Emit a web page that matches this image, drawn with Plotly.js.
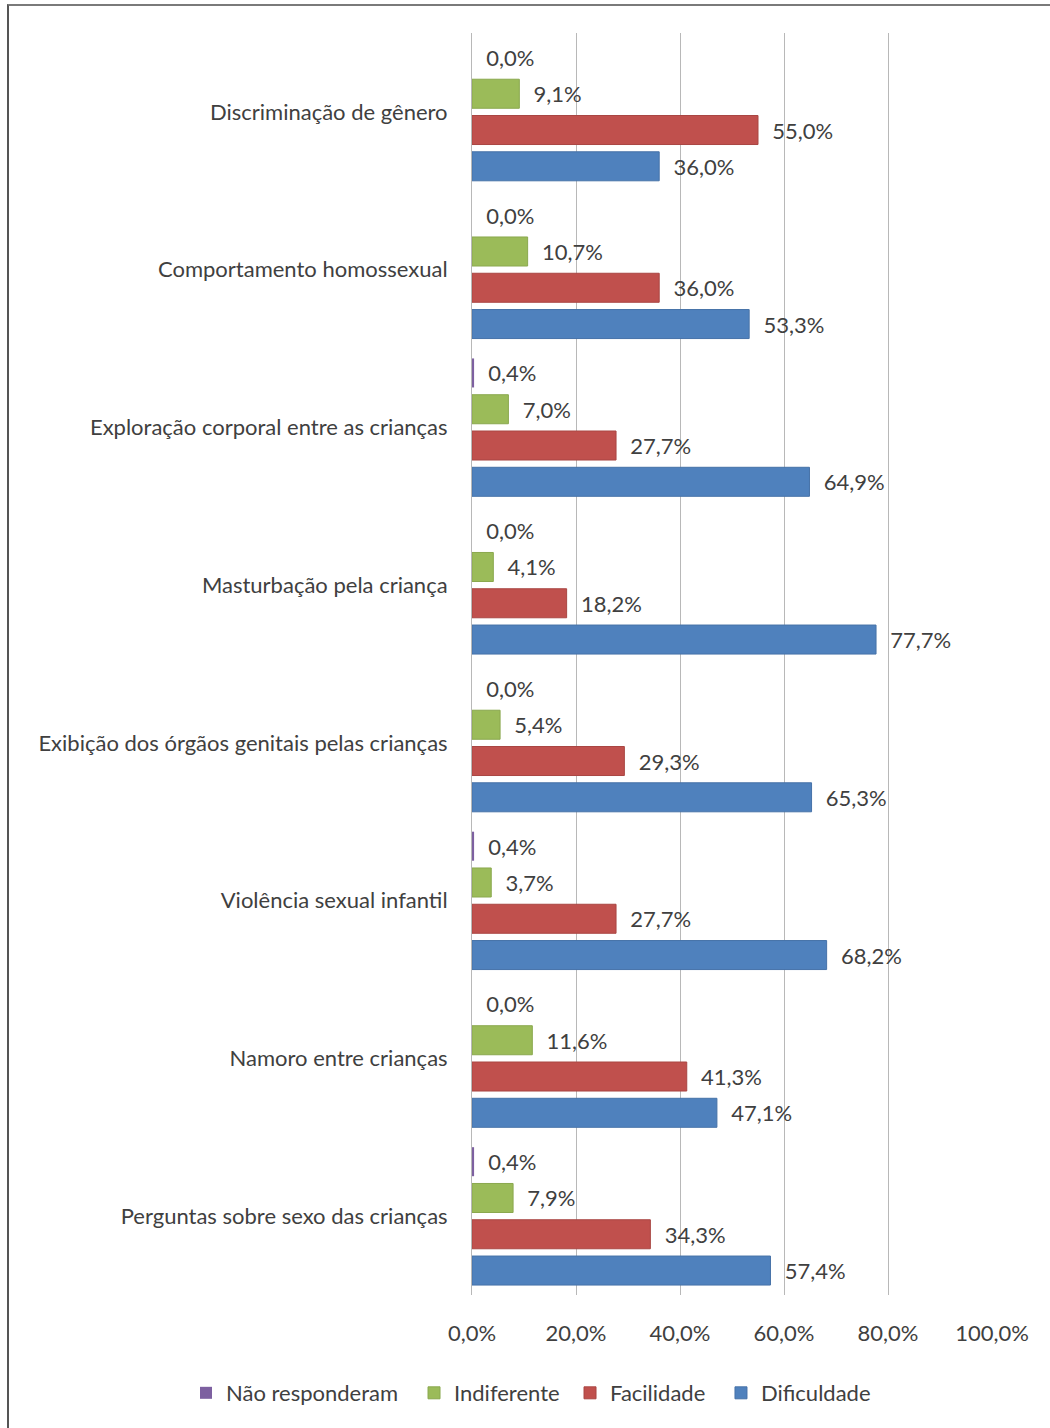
<!DOCTYPE html>
<html>
<head>
<meta charset="utf-8">
<script src="https://cdn.plot.ly/plotly-3.0.1.min.js"></script>
<style>
  html, body { margin: 0; padding: 0; background: #fff; }
  #chart { width: 1050px; height: 1428px; position: absolute; left: 0; top: 0; }
  #frame { position: absolute; left: 7px; top: 4px; width: 1043px; height: 1424px;
           border-top: 2px solid #7a7a7a; border-left: 2px solid #555; pointer-events: none; box-sizing: border-box; }
</style>
</head>
<body>
<div id="chart"></div>
<div id="frame"></div>
<script>
const categories = [
  "Discriminação de gênero",
  "Comportamento homossexual",
  "Exploração corporal entre as crianças",
  "Masturbação pela criança",
  "Exibição dos órgãos genitais pelas crianças",
  "Violência sexual infantil",
  "Namoro entre crianças",
  "Perguntas sobre sexo das crianças"
];
const naoResponderam = [0.0, 0.0, 0.4, 0.0, 0.0, 0.4, 0.0, 0.4];
const indiferente    = [9.1, 10.7, 7.0, 4.1, 5.4, 3.7, 11.6, 7.9];
const facilidade     = [55.0, 36.0, 27.7, 18.2, 29.3, 27.7, 41.3, 34.3];
const dificuldade    = [36.0, 53.3, 64.9, 77.7, 65.3, 68.2, 47.1, 57.4];
const xTickVals = [0, 20, 40, 60, 80, 100];

const fmt = v => '\u00a0\u00a0' + v.toFixed(1).replace('.', ',') + '%';
const txtFont = { family: 'Lato, "Open Sans", sans-serif', size: 22, color: '#404040' };

function series(name, vals, color, line, lw, legendId) {
  return {
    type: 'bar', orientation: 'h', name: name, legend: legendId,
    y: categories, x: vals,
    text: vals.map(fmt), textposition: 'outside', cliponaxis: false,
    textfont: txtFont,
    marker: { color: color, line: { color: line, width: lw } },
    hoverinfo: 'x+y'
  };
}

const data = [
  series('Não responderam', naoResponderam, '#7d60a0', '#6a5089', 0, 'legend'),
  series('Indiferente', indiferente, '#9bbb59', '#8aa84e', 1, 'legend2'),
  series('Facilidade', facilidade, '#c0504d', '#a94643', 1, 'legend3'),
  series('Dificuldade', dificuldade, '#4f81bd', '#4672a8', 1, 'legend4')
];

function legendAt(x) {
  return {
    orientation: 'h', xref: 'paper', yref: 'container',
    x: x, xanchor: 'left', y: 0.0245, yanchor: 'middle',
    font: txtFont, bgcolor: 'rgba(0,0,0,0)'
  };
}

const layout = {
  width: 1050, height: 1428,
  margin: { l: 472, r: 58, t: 33, b: 133, autoexpand: false },
  paper_bgcolor: 'rgba(0,0,0,0)', plot_bgcolor: '#fff',
  font: txtFont,
  barmode: 'group', bargap: 0.08, bargroupgap: 0.2,
  showlegend: true,
  legend: legendAt(-0.55),
  legend2: legendAt(-0.1115),
  legend3: legendAt(0.1885),
  legend4: legendAt(0.4788),
  xaxis: {
    range: [0, 100], tickvals: xTickVals,
    ticktext: xTickVals.map(v => v.toFixed(1).replace('.', ',') + '%'),
    showgrid: true, gridcolor: '#b8b8b8', gridwidth: 1,
    zeroline: false, showline: false, ticks: '',
    ticklabelstandoff: 23, tickfont: txtFont, fixedrange: true
  },
  yaxis: {
    type: 'category', categoryorder: 'array', categoryarray: categories,
    autorange: 'reversed',
    showgrid: false, zeroline: false, showline: true, linecolor: '#b8b8b8', linewidth: 1,
    ticks: '', ticklabelstandoff: 19, tickfont: txtFont, fixedrange: true
  }
};

Plotly.newPlot('chart', data, layout, { displayModeBar: false, staticPlot: true });
</script>
</body>
</html>
